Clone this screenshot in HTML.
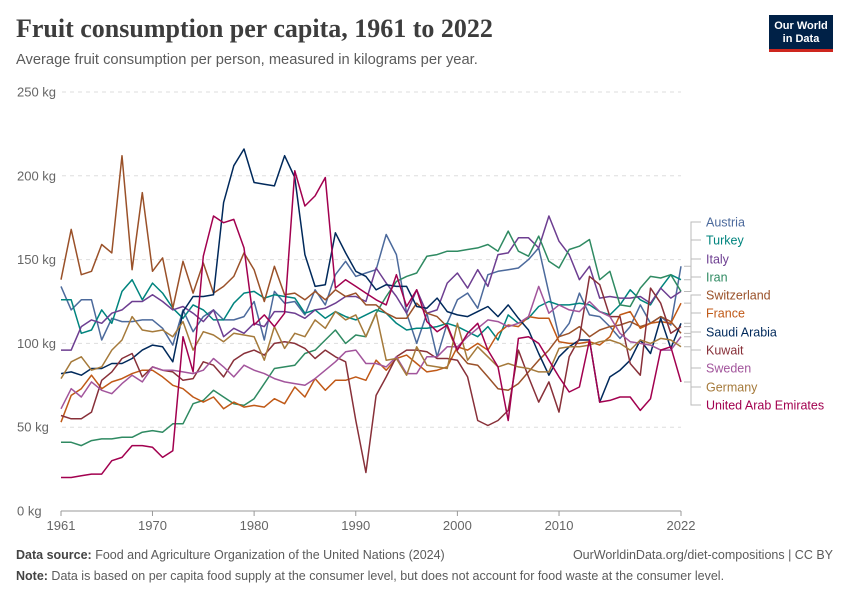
<!DOCTYPE html>
<html><head><meta charset="utf-8">
<style>
body{margin:0;background:#fff;font-family:"Liberation Sans",sans-serif;}
#wrap{position:relative;width:850px;height:600px;overflow:hidden;}
.title{position:absolute;left:16px;top:14px;font-family:"Liberation Serif",serif;font-size:26px;font-weight:bold;color:#3d3d3d;margin:0;}
.sub{position:absolute;left:16px;top:52px;font-size:14.7px;color:#5b5b5b;}
.logo{position:absolute;left:769px;top:15px;width:64px;height:37px;background:#002147;border-bottom:3px solid #ce261e;color:#fff;font-size:11px;font-weight:bold;text-align:center;line-height:13px;padding-top:5px;box-sizing:border-box;}
.foot{position:absolute;font-size:12.5px;color:#5b5b5b;}
.foot b{color:#444;}
svg text{font-family:"Liberation Sans",sans-serif;}
</style></head><body>
<div id="wrap">
<h1 class="title">Fruit consumption per capita, 1961 to 2022</h1>
<div class="sub">Average fruit consumption per person, measured in kilograms per year.</div>
<div class="logo">Our World<br>in Data</div>
<svg id="chart" width="850" height="600" style="position:absolute;left:0;top:0"></svg>
<div class="foot" style="left:16px;top:548px"><b>Data source:</b> Food and Agriculture Organization of the United Nations (2024)</div>
<div class="foot" style="right:17px;top:548px">OurWorldinData.org/diet-compositions | CC BY</div>
<div class="foot" style="left:16px;top:569px"><b>Note:</b> Data is based on per capita food supply at the consumer level, but does not account for food waste at the consumer level.</div>
</div>
<script>
const startYear = 1961;
const endYear = 2022;
const yTicks = [0, 50, 100, 150, 200, 250];
const xTicks = [1961, 1970, 1980, 1990, 2000, 2010, 2022];
const seriesNames = ["Austria","Turkey","Italy","Iran","Switzerland","France","Saudi Arabia","Kuwait","Sweden","Germany","United Arab Emirates"];
const austria = [134,120,126,126,102,115,113,113,114,114,109,99,120,107,116,120,114,114,116,125,102,131,124,125,117,132,123,141,149,140,142,144,165,153,118,100,118,92,112,126,130,121,141,143,144,145,150,157,130,104,112,130,117,116,110,103,110,123,112,116,111,146];
const turkey = [126,126,106,108,120,112,131,138,126,136,130,121,115,123,120,114,114,124,130,131,127,129,128,127,118,120,115,119,116,114,117,120,118,112,108,109,109,110,112,110,107,104,110,102,117,112,115,122,125,123,123,124,123,119,117,123,132,126,123,133,141,138];
const italy = [96,96,110,114,112,118,120,125,125,129,125,120,122,118,113,120,104,109,106,112,110,119,119,118,115,120,121,124,128,128,125,145,136,128,118,132,118,120,136,142,133,144,134,153,154,163,163,157,176,161,153,138,146,127,128,127,127,128,124,133,127,131];
const iran = [41,41,39,42,43,43,44,44,47,48,47,52,52,64,66,72,68,64,63,67,76,85,86,87,94,96,102,108,100,105,104,118,128,137,140,142,152,153,155,155,156,157,159,155,167,155,152,164,149,145,156,158,162,138,143,123,122,133,140,139,141,131];
const switzerland = [138,168,141,143,159,154,212,144,190,143,151,121,149,130,148,130,134,140,154,144,125,146,129,130,126,131,126,132,128,130,123,123,118,115,115,124,118,116,110,95,88,87,80,73,72,76,83,90,96,104,106,110,104,108,110,111,113,110,112,116,113,106];
const france = [53,69,73,81,73,77,79,82,84,84,80,75,73,68,65,68,61,65,62,63,62,67,64,74,68,79,72,78,78,80,78,90,84,91,93,88,83,84,86,98,96,100,96,106,111,110,116,115,115,101,100,100,101,99,104,117,119,109,112,113,112,124];
const saudiArabia = [82,83,81,85,85,88,88,91,96,99,98,89,119,128,128,129,184,206,216,196,195,194,212,199,153,134,135,166,154,143,140,132,135,134,134,122,121,127,119,117,116,119,122,116,123,115,108,94,81,92,98,102,102,65,80,84,90,102,94,115,97,112];
const kuwait = [57,55,55,59,78,83,91,94,80,86,84,83,78,79,89,87,80,90,94,96,93,100,101,100,97,91,96,92,89,54,23,69,80,92,96,96,95,91,91,90,80,54,51,54,60,96,80,65,77,59,92,103,140,135,116,116,88,81,133,124,106,110];
const sweden = [61,73,68,77,72,70,76,81,77,86,84,84,83,82,84,91,86,80,87,84,82,79,77,76,75,79,84,89,95,96,88,88,86,92,82,82,92,92,98,98,104,109,114,113,110,112,116,134,118,123,120,119,125,119,116,106,101,100,99,96,96,104];
const germany = [79,89,92,84,86,96,102,116,108,107,108,104,113,96,107,105,101,106,105,104,90,110,97,106,104,114,109,119,114,117,104,118,90,91,81,98,87,86,85,112,90,98,92,86,88,86,85,83,83,97,98,98,99,101,102,100,96,102,100,103,102,98];
const uae = [20,20,21,22,22,30,32,39,39,38,32,36,104,83,152,176,172,174,157,111,117,110,118,203,182,188,199,133,138,134,130,126,123,141,122,132,113,107,111,96,106,112,96,86,54,103,104,100,90,80,71,74,102,65,66,68,68,60,67,96,98,77];
const seriesValues = [austria,turkey,italy,iran,switzerland,france,saudiArabia,kuwait,sweden,germany,uae];

const colors = ["#4C6A9C","#00847E","#6D3E91","#2f8a62","#9A5129","#C05917","#00295B","#883039","#A2559C","#A57A3B","#A2004F"];
const labelY = [222,240,259,277,295,313,332,350,368,387,405];
const X0=61, X1=681, Y0=511, Y250=92;
const xScale = yr => X0 + (yr-startYear)*(X1-X0)/(endYear-startYear);
const yScale = v => Y0 - v*(Y0-Y250)/250;
const svg = document.getElementById('chart');
const NS = 'http://www.w3.org/2000/svg';
function mk(tag, attrs){const e=document.createElementNS(NS,tag);for(const k in attrs)e.setAttribute(k,attrs[k]);svg.appendChild(e);return e;}

yTicks.forEach(t=>{
  const y=yScale(t);
  const g=mk('line',{x1:t===0?X0:62,x2:X1,y1:y,y2:y,stroke:t===0?'#999':'#ddd','stroke-dasharray':t===0?'':'4,4','stroke-width':1});
  
  
  const tx=mk('text',{x:17,y:y+4.5,'font-size':13,fill:'#666'});
  tx.textContent=t+' kg';
  
  
});
xTicks.forEach(t=>{
  const x=xScale(t);
  const tk=mk('line',{x1:x,x2:x,y1:Y0,y2:Y0+5,stroke:'#999'});
  
  
  const tx=mk('text',{x:x,y:Y0+19,'font-size':13,fill:'#666','text-anchor':'middle'});
  tx.textContent=t;
  
  
});
seriesValues.forEach((vals,i)=>{
  const pts=vals.map((v,k)=>xScale(startYear+k).toFixed(1)+','+yScale(v).toFixed(1)).join(' ');
  const p=mk('polyline',{points:pts,fill:'none',stroke:colors[i],'stroke-width':1.5,'stroke-linejoin':'round'});
  
  
  const ey=yScale(vals[vals.length-1]), ly=labelY[i];
  const c=mk('polyline',{points:`${X1+3},${ey} ${X1+10},${ey} ${X1+10},${ly} ${X1+20},${ly}`,fill:'none',stroke:'#bbb','stroke-width':1});
  
  
  const t=mk('text',{x:706,y:ly+4.5,'font-size':12.5,fill:colors[i]});
  t.textContent=seriesNames[i];
  
  
});
</script>
</body></html>
